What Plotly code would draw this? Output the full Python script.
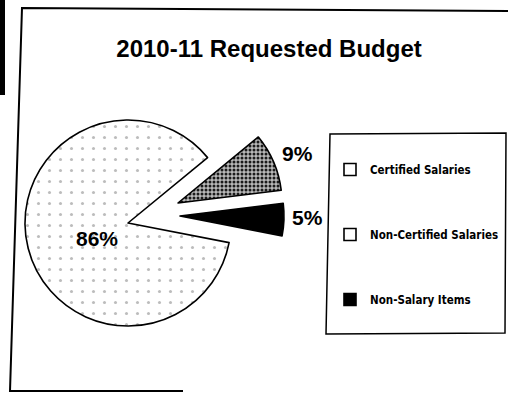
import plotly.graph_objects as go

# Budget shares (percent of total request)
categories = ["Certified Salaries", "Non-Certified Salaries", "Non-Salary Items"]
values = [86, 9, 5]
chart_title = "2010-11 Requested Budget"

W, H = 508, 393
CLEAR = "rgba(0,0,0,0)"


def fx(x):
    return x / W


def fy(y):
    return 1 - y / H


def domain(cx, cy, r):
    return dict(x=[(cx - r) / W, (cx + r) / W], y=[1 - (cy + r) / H, 1 - (cy - r) / H])


# slice styling: stippled white, speckled grey, solid black
slice_fill = ["white", "#b8b8b8", "black"]
slice_fg = ["#bcbcbc", "#1a1a1a", "black"]
slice_shape = [".", ".", ""]
slice_size = [11, 4, 8]
slice_solid = [0.06, 0.45, 0.3]

# where each wedge sits: the big one in place, the two small ones pulled right
centers = [(128, 223, 103), (178, 203, 104), (180, 216, 104)]
# percentage label anchor points, one per wedge
label_pos = [(97, 238), (297, 153), (307, 218)]

fig = go.Figure()

# legend entries (tiny pies tucked underneath the main wedge)
legend_fill = ["white", "white", "black"]
for i, name in enumerate(categories):
    fig.add_trace(go.Pie(
        values=[values[i]], labels=[name],
        domain=domain(110, 290, 1),
        marker=dict(colors=[legend_fill[i]], line=dict(color="black", width=1.6)),
        textinfo="none", hoverinfo="skip", sort=False,
        legendgroup=f"g{i}", showlegend=True,
    ))

for i, (cx, cy, r) in enumerate(centers):
    own = [j == i for j in range(len(values))]
    fig.add_trace(go.Pie(
        values=values, labels=categories,
        domain=domain(cx, cy, r),
        sort=False, direction="clockwise", rotation=101,
        marker=dict(
            colors=[slice_fill[j] if own[j] else CLEAR for j in range(3)],
            line=dict(color="black", width=[1.6 if o else 0 for o in own]),
            pattern=dict(
                shape=[slice_shape[j] if own[j] else "" for j in range(3)],
                fgcolor=slice_fg,
                bgcolor=[slice_fill[j] if own[j] else CLEAR for j in range(3)],
                size=slice_size,
                solidity=slice_solid,
            ),
        ),
        textinfo="none",
        hoverinfo="skip", showlegend=False,
    ))

total = sum(values)
annotations = [
    dict(text=f"{round(100 * v / total)}%", x=fx(px), y=fy(py),
         xref="paper", yref="paper", xanchor="center", yanchor="middle",
         showarrow=False,
         font=dict(family="Liberation Sans, Arial, sans-serif", size=21,
                   color="black", weight="bold"))
    for v, (px, py) in zip(values, label_pos)
]

shapes = [
    # black strip at the far left
    dict(type="rect", xref="paper", yref="paper",
         x0=0, x1=fx(5), y0=fy(95), y1=fy(0),
         fillcolor="black", line=dict(width=0)),
    # outer frame
    dict(type="path", xref="paper", yref="paper",
         path=f"M{fx(508)},{fy(11)} L{fx(22)},{fy(8)} L{fx(10)},{fy(391)} L{fx(183)},{fy(391)}",
         line=dict(color="black", width=2)),
    # legend box
    dict(type="path", xref="paper", yref="paper",
         path=f"M{fx(330)},{fy(134)} L{fx(506)},{fy(133)} L{fx(505)},{fy(333)} L{fx(326)},{fy(334)} Z",
         line=dict(color="black", width=1.5)),
]

fig.update_layout(
    width=W, height=H,
    margin=dict(l=0, r=0, t=0, b=0),
    paper_bgcolor="white", plot_bgcolor="white",
    title=dict(text=chart_title, x=fx(269), xanchor="center",
               y=fy(49), yanchor="middle", yref="container",
               font=dict(family="Liberation Sans, Arial, sans-serif", size=24,
                         color="black", weight="bold")),
    legend=dict(x=fx(330), xanchor="left", y=fy(155), yanchor="top",
                traceorder="grouped", tracegroupgap=46,
                bgcolor=CLEAR, borderwidth=0,
                font=dict(family="DejaVu Sans Condensed, sans-serif",
                          size=11.5, color="black", weight="bold")),
    shapes=shapes,
    annotations=annotations,
    hovermode=False,
)

fig.write_html("out.html", config={"displayModeBar": False})
